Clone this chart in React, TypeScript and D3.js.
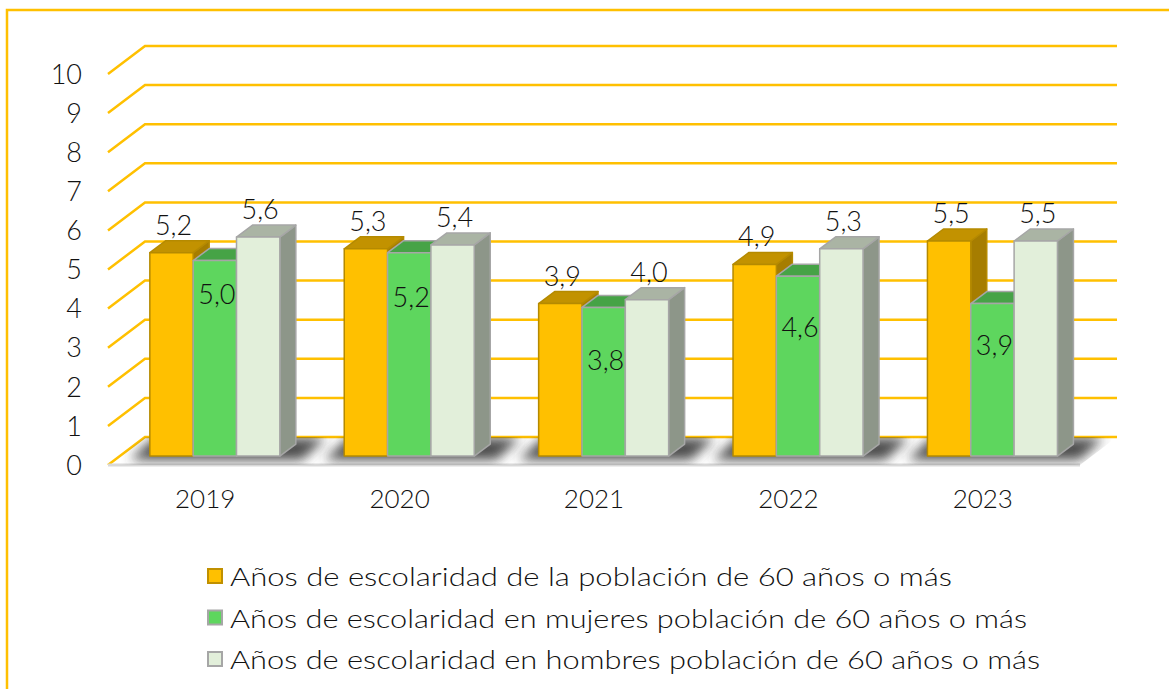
import React from 'react';
import * as d3 from 'd3';

const years = ['2019', '2020', '2021', '2022', '2023'];
const seriesNames = [
  'Años de escolaridad de la población de 60 años o más',
  'Años de escolaridad en mujeres población de 60 años o más',
  'Años de escolaridad en hombres población de 60 años o más',
];
const totalValues = [5.2, 5.3, 3.9, 4.9, 5.5];
const womenValues = [5.0, 5.2, 3.8, 4.6, 3.9];
const menValues = [5.6, 5.4, 4.0, 5.3, 5.5];
const yTicks = [0, 1, 2, 3, 4, 5, 6, 7, 8, 9, 10];

// label placement tweak for the in-bar (women) labels, px below bar top
const womenLabelDy = [43, 54, 63, 61, 51];
// legend text widths matching the reference's wide font
const legendTextLengths = [722, 797, 810];

const W = 1169;
const H = 689;
const FONT = 'Lato, "Open Sans", sans-serif';

const styles = [
  { front: '#FFC000', top: '#C29200', side: '#A67D00', stroke: '#B58A00' },
  { front: '#5ED65E', top: '#46A346', side: '#3B8C3B', stroke: '#A6A6A6' },
  { front: '#E2EFDA', top: '#AAB4A4', side: '#8D9689', stroke: '#A6A6A6' },
];

export default function App() {
  const series = [totalValues, womenValues, menValues];

  const frontLeft = 108;
  const frontRight = 1080;
  const depthX = 37;
  const depthY = -28;
  const yFront = d3.scaleLinear().domain([0, 10]).range([465, 74]);
  const yBack = (v: number) => yFront(v) + depthY;
  const xBand = d3.scaleBand<string>().domain(years).range([frontLeft, frontRight]).padding(0);
  const bw = xBand.bandwidth();
  const groupOffset = 30;
  const groupWidth = 130;
  const xSeries = d3.scaleBand<number>().domain([0, 1, 2]).range([0, groupWidth]).padding(0);
  const barFrac = 0.32;
  const barShiftX = depthX * barFrac;
  const barShiftY = depthY * barFrac;
  const barDX = 16;
  const barDY = -12;

  const floorPts = [
    [frontLeft, yFront(0)],
    [frontRight, yFront(0)],
    [frontRight + depthX, yBack(0)],
    [frontLeft + depthX, yBack(0)],
  ];

  const pts = (p: number[][]) => p.map((q) => q.join(',')).join(' ');
  const fmt = (v: number) => d3.format('.1f')(v).replace('.', ',');

  return (
    <svg width={W} height={H} style={{ position: 'absolute', left: 0, top: 0, background: '#fff' }} fontFamily={FONT} fontWeight={300}>
      <defs>
        <filter id="blur" x="-50%" y="-50%" width="200%" height="200%">
          <feGaussianBlur stdDeviation="6" />
        </filter>
        <clipPath id="floorClip">
          <polygon points={pts(floorPts)} />
        </clipPath>
      </defs>
      <rect x={0} y={0} width={W} height={H} fill="#fff" />
      <path d={`M7,${H + 5} L7,10 L${W + 5},10`} fill="none" stroke="#FFC000" strokeWidth={2.5} />

      {yTicks.map((t) => (
        <g key={t}>
          <polyline
            points={pts([
              [frontLeft, yFront(t)],
              [frontLeft + depthX, yBack(t)],
              [frontRight + depthX, yBack(t)],
            ])}
            fill="none"
            stroke="#FFC000"
            strokeWidth={2.5}
          />
          <text x={82} y={yFront(t)} dy="0.36em" textAnchor="end" fontSize={27} fill="#111">
            {t}
          </text>
        </g>
      ))}

      <line x1={frontLeft} x2={frontRight} y1={yFront(0)} y2={yFront(0)} stroke="#D9D9D9" strokeWidth={3} />

      <g clipPath="url(#floorClip)">
        {years.map((yr) => {
          const x0 = (xBand(yr) as number) + groupOffset + barShiftX;
          const x1 = x0 + groupWidth + barDX;
          const yb = yFront(0) + barShiftY;
          return (
            <polygon
              key={yr}
              points={pts([
                [x0 - 20, yb + 4],
                [x1 + 6, yb + 4],
                [x1 + 30, yb - 18],
                [x0 + 4, yb - 18],
              ])}
              fill="#3a3a3a"
              opacity={0.9}
              filter="url(#blur)"
            />
          );
        })}
      </g>

      {years.map((yr, i) => (
        <g key={yr}>
          {series.map((vals, s) => {
            const v = vals[i];
            const st = styles[s];
            const x = (xBand(yr) as number) + groupOffset + barShiftX + (xSeries(s) as number);
            const w = xSeries.bandwidth();
            const yb = yFront(0) + barShiftY;
            const yt = yFront(v) + barShiftY;
            return (
              <g key={s} strokeLinejoin="round">
                <polygon
                  points={pts([
                    [x + w, yt],
                    [x + w + barDX, yt + barDY],
                    [x + w + barDX, yb + barDY],
                    [x + w, yb],
                  ])}
                  fill={st.side}
                  stroke={st.stroke}
                  strokeWidth={1.5}
                />
                <polygon
                  points={pts([
                    [x, yt],
                    [x + barDX, yt + barDY],
                    [x + w + barDX, yt + barDY],
                    [x + w, yt],
                  ])}
                  fill={st.top}
                  stroke={st.stroke}
                  strokeWidth={1.5}
                />
                <rect x={x} y={yt} width={w} height={yb - yt} fill={st.front} stroke={st.stroke} strokeWidth={1.5} />
              </g>
            );
          })}
        </g>
      ))}

      {years.map((yr, i) =>
        series.map((vals, s) => {
          const v = vals[i];
          const x = (xBand(yr) as number) + groupOffset + barShiftX + (xSeries(s) as number) + xSeries.bandwidth() / 2 + 2;
          const yt = yFront(v) + barShiftY;
          const y = s === 1 ? yt + womenLabelDy[i] : yt - 18;
          return (
            <text key={`${yr}-${s}`} x={x} y={y} textAnchor="middle" fontSize={27} fill="#111">
              {fmt(v)}
            </text>
          );
        })
      )}

      {years.map((yr) => (
        <text key={yr} x={(xBand(yr) as number) + bw / 2} y={508} textAnchor="middle" fontSize={26} fill="#111">
          {yr}
        </text>
      ))}

      {seriesNames.map((name, s) => {
        const yBase = 586 + s * 41.5;
        return (
          <g key={name}>
            <rect x={208} y={yBase - 17} width={14} height={14} fill={styles[s].front} stroke={s === 0 ? '#C09000' : '#A6A6A6'} strokeWidth={2} />
            <text x={230} y={yBase} fontSize={25} fill="#111" textLength={legendTextLengths[s]} lengthAdjust="spacingAndGlyphs">
              {name}
            </text>
          </g>
        );
      })}
    </svg>
  );
}
